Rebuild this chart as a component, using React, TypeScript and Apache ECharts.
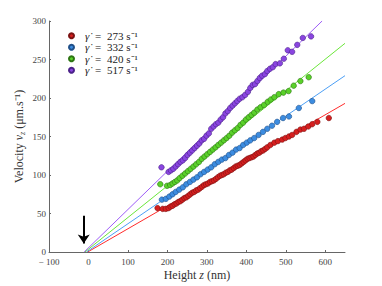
import React, { useEffect, useRef } from 'react';
import * as echarts from 'echarts';

const xTickValues = [-100, 0, 100, 200, 300, 400, 500, 600];
const rates = ['273', '332', '420', '517'];

const red273: number[][] = [
  [175, 57], [188, 56], [196, 56], [203, 57], [208, 59], [213, 60], [218, 62], [223, 63], [228, 65], [233, 66],
  [238, 68], [243, 70], [248, 71], [253, 73], [258, 75], [263, 77], [268, 78], [273, 80], [278, 81], [283, 83],
  [288, 85], [293, 87], [298, 88], [303, 89], [308, 91], [313, 92], [318, 93], [323, 95], [328, 97], [333, 99],
  [338, 100], [343, 101], [348, 103], [353, 104], [358, 106], [363, 107], [368, 109], [373, 111], [378, 112], [383, 113],
  [388, 115], [393, 117], [398, 119], [403, 121], [408, 122], [413, 123], [418, 124], [423, 126], [428, 128], [433, 129],
  [438, 131], [443, 132], [448, 134], [453, 136], [461, 139], [471, 142], [480, 144], [491, 146], [499, 148], [508, 150],
  [516, 152], [527, 156], [537, 159], [546, 160], [557, 163], [567, 166], [580, 169], [609, 174],
];

const blue332: number[][] = [
  [186, 68], [196, 69], [205, 72], [213, 75], [221, 78], [230, 81], [239, 84], [248, 88], [257, 91], [266, 94],
  [275, 97], [284, 101], [293, 104], [302, 107], [311, 110], [320, 114], [329, 117], [338, 120], [347, 122], [356, 126],
  [365, 129], [374, 133], [383, 135], [392, 139], [401, 142], [410, 145], [420, 148], [431, 152], [442, 156], [453, 160],
  [465, 164], [478, 169], [493, 174], [508, 176], [533, 187], [567, 196],
];

const green420: number[][] = [
  [182, 88], [199, 86], [207, 87], [213, 89], [219, 91], [225, 93], [231, 96], [238, 99], [245, 102], [252, 105],
  [259, 108], [266, 111], [273, 114], [280, 117], [287, 121], [294, 124], [301, 127], [308, 130], [315, 133], [322, 136],
  [329, 139], [336, 142], [343, 145], [350, 148], [357, 151], [364, 155], [371, 158], [378, 161], [385, 165], [392, 168],
  [399, 172], [406, 175], [413, 178], [420, 181], [428, 185], [436, 188], [445, 191], [454, 195], [462, 198], [471, 201],
  [482, 205], [494, 207], [507, 209], [520, 216], [537, 222], [558, 227],
];

const purple517: number[][] = [
  [185, 110], [203, 104], [209, 106], [215, 108], [221, 111], [227, 114], [233, 117], [239, 119], [245, 122], [251, 126],
  [257, 129], [263, 132], [269, 135], [275, 138], [281, 141], [287, 145], [293, 147], [299, 151], [305, 154], [311, 160],
  [317, 163], [323, 166], [329, 168], [335, 172], [341, 175], [347, 180], [353, 183], [359, 187], [365, 190], [371, 193],
  [377, 196], [383, 199], [390, 201], [397, 204], [404, 208], [410, 213], [416, 217], [422, 218], [428, 222], [434, 226],
  [440, 229], [447, 231], [453, 235], [460, 238], [467, 240], [474, 244], [485, 245], [495, 251], [505, 262], [516, 260],
  [529, 269], [543, 278], [564, 280],
];

const fitRed = [[-2, 0], [650, 193]];
const fitBlue = [[-5, 0], [650, 229]];
const fitGreen = [[-9, 0], [650, 271]];
const fitPurple = [[-11, 0], [592, 300]];

const arrowFrom = [-12, 47];
const arrowTo = [-12, 11];

const dotColors = ['#d61f1f', '#3c8ce0', '#5ad12a', '#8a45e0'];
const dotBorders = ['#7a1212', '#1f4f88', '#2c7412', '#4a2188'];
const lineColors = ['#ff2b2b', '#4c9ff5', '#6be63a', '#9d5cf7'];

const serif = 'Liberation Serif';

export default function App() {
  const ref = useRef<HTMLDivElement>(null);
  useEffect(() => {
    if (!ref.current) return;
    const chart = echarts.init(ref.current, undefined, { renderer: 'svg' });
    const scatterSets = [red273, blue332, green420, purple517];
    const fits = [fitRed, fitBlue, fitGreen, fitPurple];
    const series: any[] = [];
    fits.forEach((f, i) => {
      series.push({
        type: 'line',
        name: 'fit' + i,
        data: f,
        symbol: 'none',
        silent: true,
        z: 1,
        lineStyle: { color: lineColors[i], width: 1 },
      });
    });
    scatterSets.forEach((d, i) => {
      series.push({
        type: 'scatter',
        name: rates[i],
        data: d,
        symbol: 'circle',
        symbolSize: 5.5,
        z: 3,
        itemStyle: { color: dotColors[i], borderColor: dotBorders[i], borderWidth: 0.6, opacity: 1 },
      });
    });
    series.push({
      type: 'scatter',
      name: 'arrow',
      data: [],
      z: 4,
      markLine: {
        silent: true,
        animation: false,
        symbol: ['none', 'arrow'],
        symbolSize: 9,
        label: { show: false },
        lineStyle: { color: '#000', width: 2, type: 'solid' },
        data: [[{ coord: arrowFrom }, { coord: arrowTo }]],
      },
    });
    chart.setOption({
      animation: false,
      grid: { left: 49, right: 37, top: 21, bottom: 32 },
      legend: {
        data: rates,
        orient: 'vertical',
        left: 63,
        top: 25,
        itemGap: 0,
        itemWidth: 5,
        itemHeight: 5,
        icon: 'circle',
        formatter: (n: string) => `{g|γ̇} {e|=} ${n} s⁻¹`,
        textStyle: {
          fontFamily: serif,
          fontSize: 11,
          lineHeight: 11.5,
          color: '#222',
          padding: [0, 0, 0, 6],
          rich: {
            g: { fontFamily: serif, fontStyle: 'italic', fontSize: 11, lineHeight: 11.5, color: '#222', padding: [0, 1, 0, 0] },
            e: { fontFamily: serif, fontSize: 11, lineHeight: 11.5, color: '#222', padding: [0, 3, 0, 2] },
          },
        },
      },
      xAxis: {
        type: 'value',
        min: -100,
        max: 650,
        interval: 100,
        name: 'Height {i|z} (nm)',
        nameLocation: 'middle',
        nameGap: 17,
        nameMoveOverlap: false,
        nameTextStyle: {
          fontFamily: serif,
          fontSize: 12,
          color: '#333',
          rich: { i: { fontFamily: serif, fontStyle: 'italic', fontSize: 12, color: '#333' } },
        },
        splitLine: { show: false },
        axisLine: { onZero: false, lineStyle: { color: '#666', width: 1 } },
        axisTick: { customValues: xTickValues, inside: true, length: 2, lineStyle: { color: '#666' } },
        axisLabel: {
          customValues: xTickValues,
          fontFamily: serif,
          fontSize: 9,
          color: '#444',
          margin: 5,
          lineHeight: 9,
          formatter: (v: number) => (v < 0 ? '− ' + Math.abs(v) : String(v)),
        },
      },
      yAxis: {
        type: 'value',
        min: 0,
        max: 300,
        interval: 50,
        name: 'Velocity {i|v}{s|z} (μm.s⁻¹)',
        nameLocation: 'middle',
        nameGap: 23,
        nameRotate: 90,
        nameMoveOverlap: false,
        nameTextStyle: {
          fontFamily: serif,
          fontSize: 12,
          color: '#333',
          rich: {
            i: { fontFamily: serif, fontStyle: 'italic', fontSize: 12, color: '#333' },
            s: { fontFamily: serif, fontStyle: 'italic', fontSize: 8, color: '#333', padding: [6, 0, 0, 0] },
          },
        },
        splitLine: { show: false },
        axisLine: { show: true, onZero: false, lineStyle: { color: '#666', width: 1 } },
        axisTick: { show: true, inside: true, length: 2, lineStyle: { color: '#666' } },
        axisLabel: { fontFamily: serif, fontSize: 9, lineHeight: 8, color: '#444', margin: 3 },
      },
      series,
    });
    return () => chart.dispose();
  }, []);
  return <div ref={ref} style={{ position: 'absolute', left: 0, top: 0, width: 382, height: 286 }} />;
}
